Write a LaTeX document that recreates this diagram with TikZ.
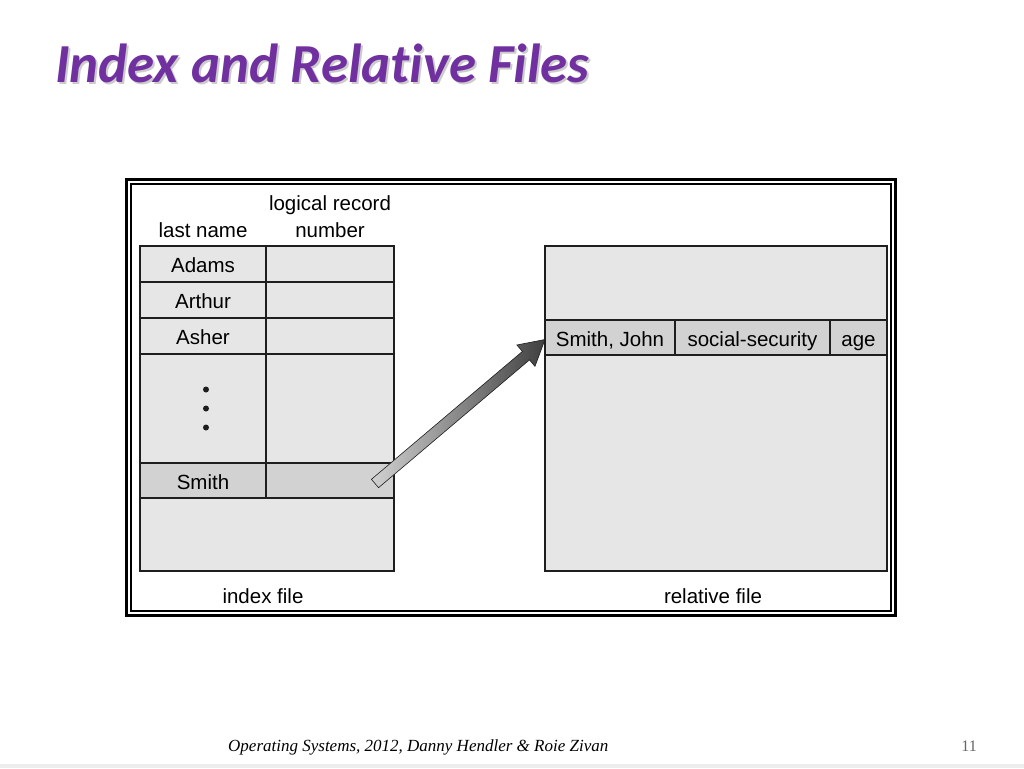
\documentclass[tikz,border=0pt]{standalone}
\usepackage{fontspec}
\setmainfont{Liberation Sans}
\newfontfamily\titlefont[Ligatures=NoCommon]{Carlito}
\newfontfamily\footfont{Liberation Serif}
\usetikzlibrary{positioning,calc}
\definecolor{titlepurple}{RGB}{112,48,160}
\definecolor{cellgray}{RGB}{230,230,230}
\definecolor{rowgray}{RGB}{210,210,210}
\definecolor{linegray}{RGB}{30,30,30}
\tikzset{
  cell/.style={draw=linegray,line width=1.3pt,fill=cellgray,inner sep=0pt,outer sep=0pt,
    text height=19pt,text depth=2pt,font=\fontsize{20.5}{24}\selectfont},
  hicell/.style={cell,fill=rowgray},
  lbl/.style={inner sep=0pt,font=\fontsize{20.5}{24}\selectfont},
  titletext/.style={inner sep=0pt,anchor=base west,font=\titlefont\bfseries\itshape\fontsize{55}{60}\selectfont}
}

\begin{document}
\begin{tikzpicture}[x=1pt,y=-1pt,node distance=0pt]
\useasboundingbox (0,0) rectangle (1024,768);
\fill[white] (0,0) rectangle (1024,768);
% title with soft shadow
\node[titletext,text=black!20] (titleshadow) at (57,84) {Index and Relative Files};
\node[titletext,text=titlepurple] (title) at (55,82) {Index and Relative Files};
% frame
\draw[line width=3pt] (126.5,179.5) rectangle (895.5,615.5);
\draw[line width=1.2pt] (131,184) rectangle (891,611);
% index file
\node[cell,minimum width=126pt,minimum height=36pt] (adams) at (203,264) {Adams};
\node[cell,minimum width=128pt,minimum height=36pt,right=of adams] (adamsnum) {};
\node[cell,minimum width=126pt,minimum height=36pt,below=of adams] (arthur) {Arthur};
\node[cell,minimum width=128pt,minimum height=36pt,right=of arthur] (arthurnum) {};
\node[cell,minimum width=126pt,minimum height=36pt,below=of arthur] (asher) {Asher};
\node[cell,minimum width=128pt,minimum height=36pt,right=of asher] (ashernum) {};
\node[cell,minimum width=126pt,minimum height=109pt,below=of asher] (gap) {};
\node[cell,minimum width=128pt,minimum height=109pt,right=of gap] (gapnum) {};
\node[hicell,minimum width=126pt,minimum height=35pt,below=of gap] (smith) {Smith};
\node[hicell,minimum width=128pt,minimum height=35pt,right=of smith] (smithnum) {};
\node[cell,minimum width=254pt,minimum height=73pt,anchor=north west] (indexrest) at (smith.south west) {};
\foreach \dy in {-19,0,19}
  \fill[linegray] ($(gap.center)+(3,\dy)$) circle (3);
\node[lbl,anchor=base] (lastname) at ($(adams.north)+(0,-9)$) {last name};
\node[lbl,anchor=base] (number) at ($(adamsnum.north)+(0,-9)$) {number};
\node[lbl,anchor=base] (logrec) at ($(adamsnum.north)+(0,-36)$) {logical record};
% relative file
\node[cell,minimum width=342pt,minimum height=74pt,anchor=north west] (reltop) at (545,246) {};
\node[hicell,minimum width=130pt,minimum height=35pt,anchor=north west] (john) at (reltop.south west) {Smith, John};
\node[hicell,minimum width=155pt,minimum height=35pt,right=of john] (ssn) {social-security};
\node[hicell,minimum width=57pt,minimum height=35pt,right=of ssn] (age) {age};
\node[cell,minimum width=342pt,minimum height=216pt,anchor=north west] (relrest) at (john.south west) {};
\node[lbl] (indexlbl) at (263,596) {index file};
\node[lbl] (rellbl) at (713,596) {relative file};
% shaded pointer arrow
\coordinate (tail) at ($(smithnum.center)+(45,3)$);
\coordinate (tip) at ($(john.west)+(0,2)$);
\coordinate (hb) at ($(tip)!25pt!(tail)$);
\shade[left color=black!18,right color=black!75,draw=linegray,line width=0.6pt]
  ($(tail)!5.5pt!90:(tip)$) -- ($(hb)!5.5pt!90:(tip)$) -- ($(hb)!14pt!90:(tip)$) -- (tip)
  -- ($(hb)!14pt!-90:(tip)$) -- ($(hb)!5.5pt!-90:(tip)$) -- ($(tail)!5.5pt!-90:(tip)$) -- cycle;
% footer
\node[inner sep=0pt,anchor=base west,font=\footfont\itshape\fontsize{17}{20}\selectfont] (footer) at (228,751) {Operating Systems, 2012, Danny Hendler \& Roie Zivan};
\node[inner sep=0pt,anchor=base east,text=black!60,font=\footfont\fontsize{16}{20}\selectfont] (pageno) at (977,751) {11};
\fill[black!7] (0,764) rectangle (1024,768);
\end{tikzpicture}
\end{document}
